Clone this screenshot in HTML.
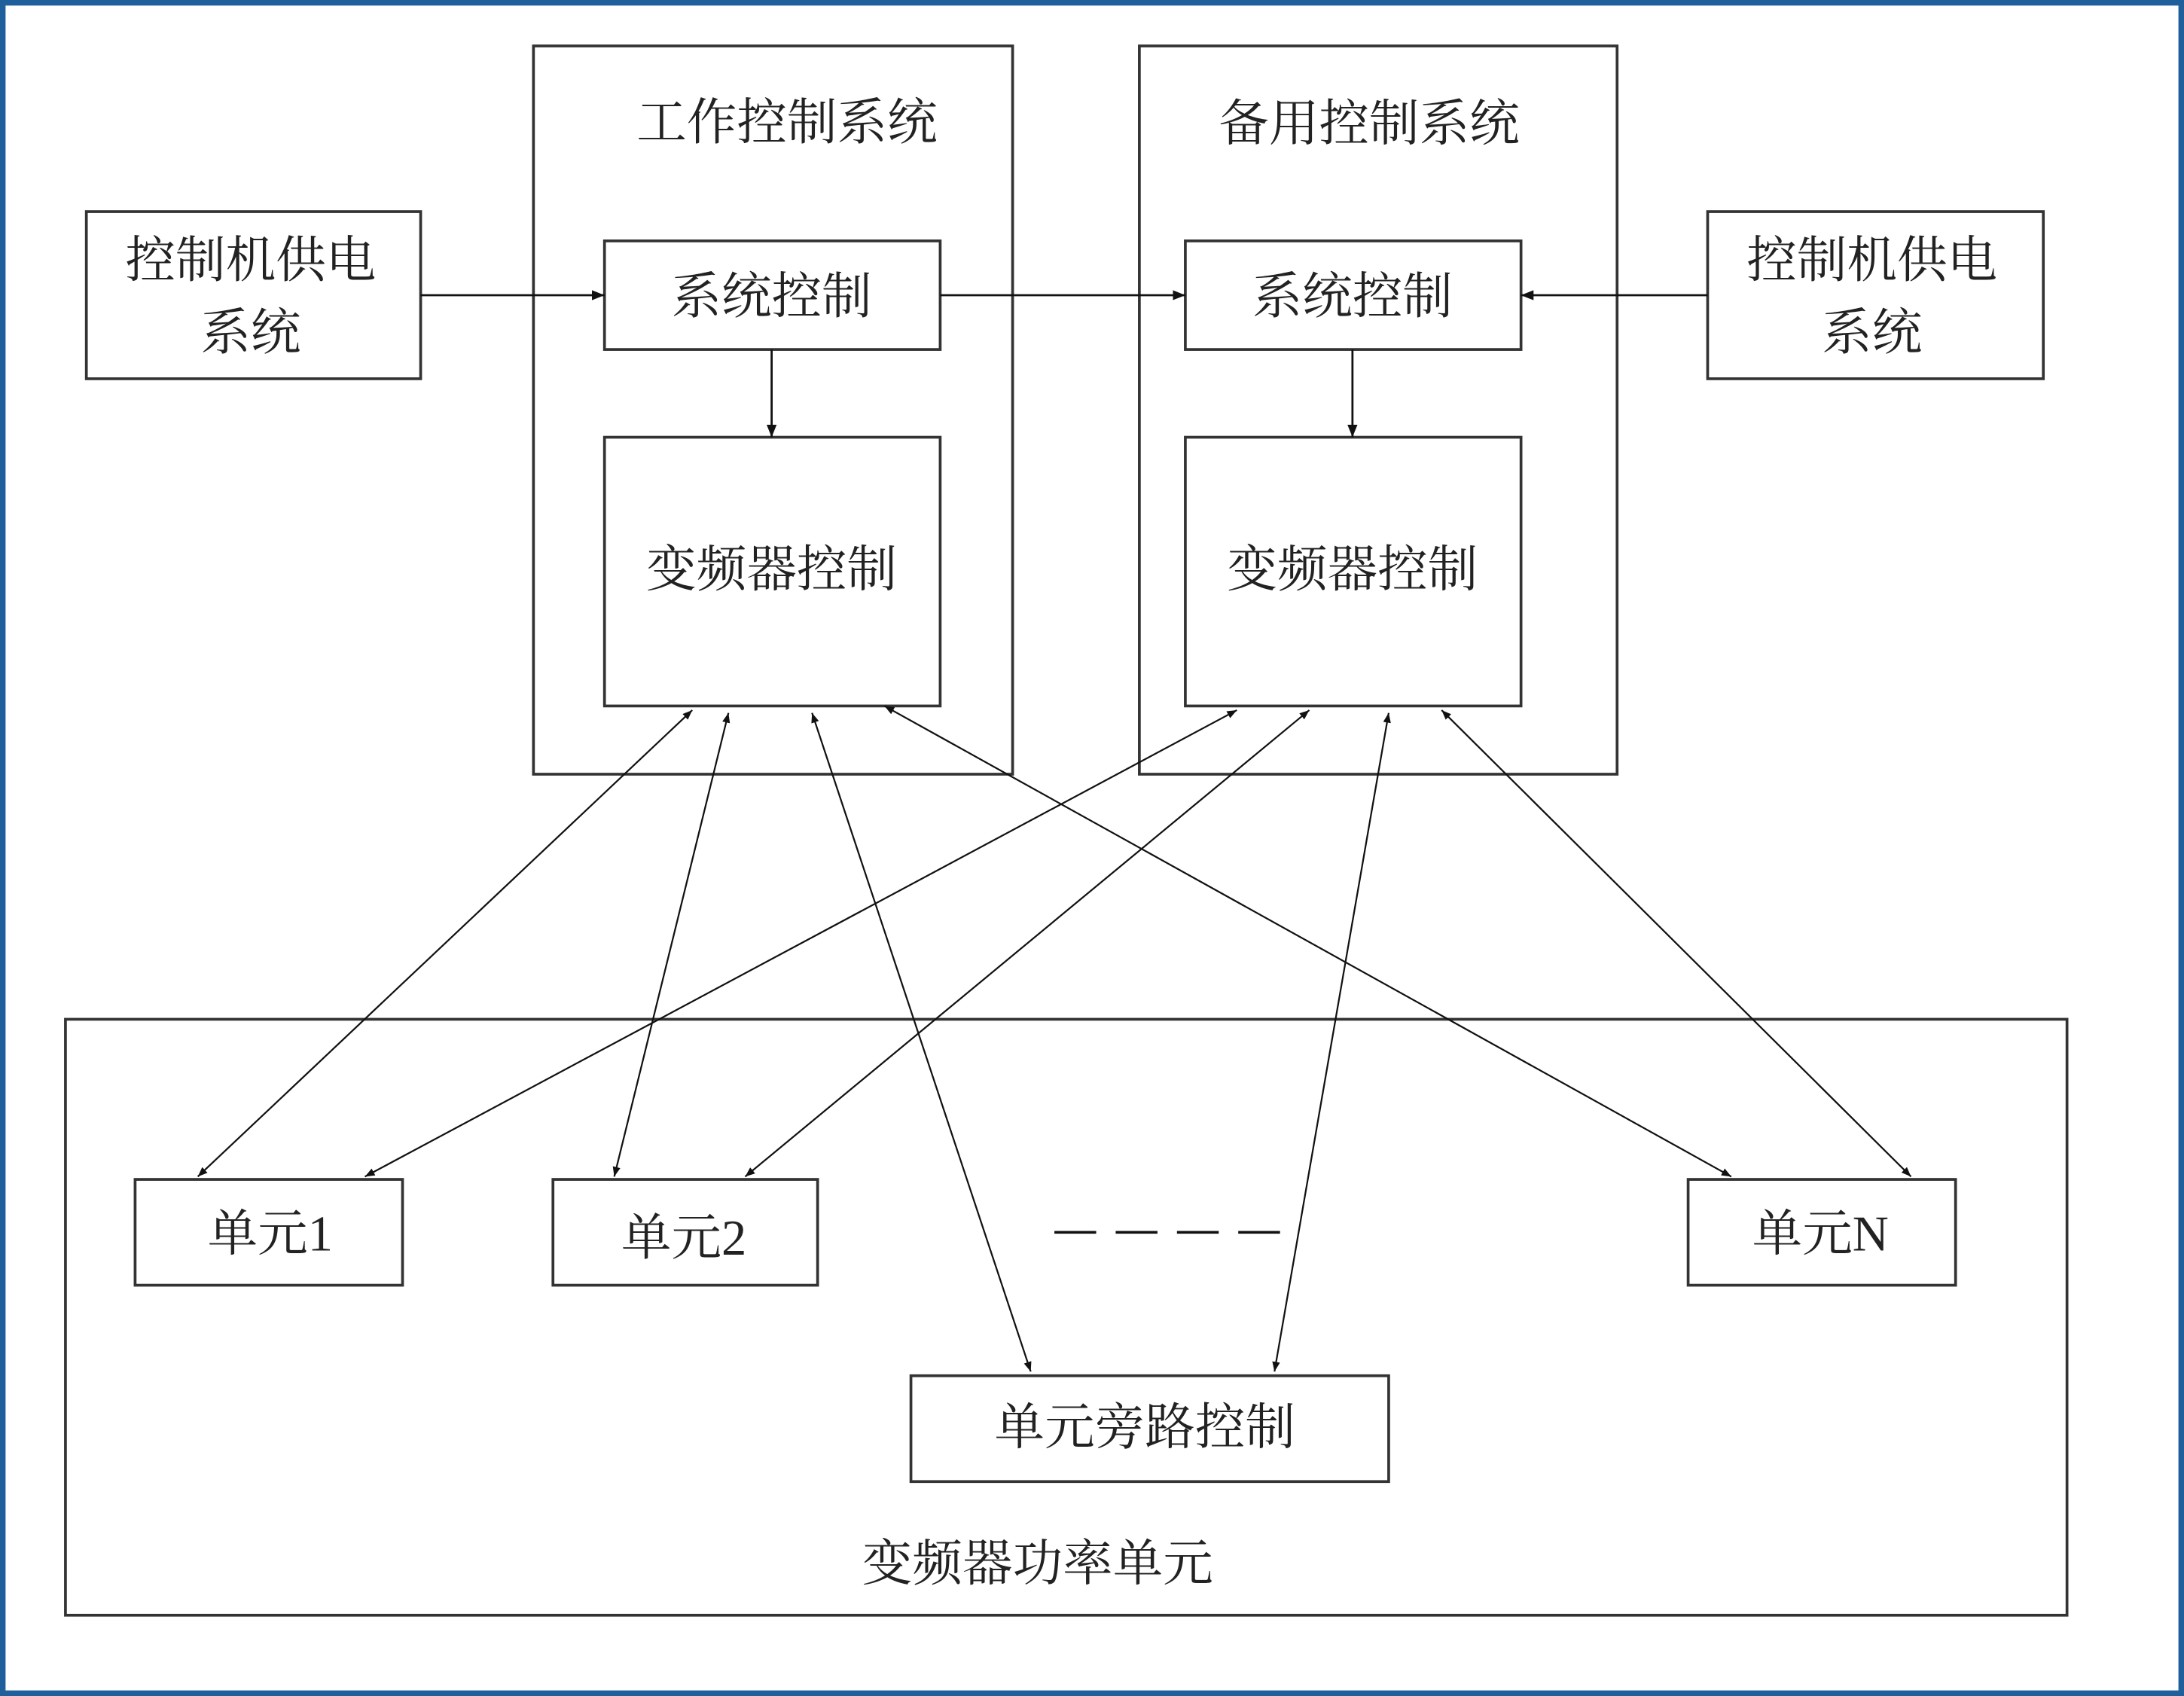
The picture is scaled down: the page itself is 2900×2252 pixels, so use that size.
<!DOCTYPE html>
<html><head><meta charset="utf-8"><style>
html,body{margin:0;padding:0;background:#fff}
svg{display:block}
text{font-family:"Liberation Serif","Noto Serif CJK SC","Noto Sans CJK SC",serif;fill:#222}
</style></head><body>
<svg width="2900" height="2252" viewBox="0 0 1568 1218" preserveAspectRatio="none" xmlns="http://www.w3.org/2000/svg">
<defs>
<marker id="a" viewBox="0 0 10 10" refX="10" refY="5" markerWidth="7" markerHeight="7" orient="auto-start-reverse" markerUnits="userSpaceOnUse"><path d="M0,1 L10,5 L0,9 z" fill="#111"/></marker>
<marker id="b" viewBox="0 0 10 10" refX="10" refY="5" markerWidth="9" markerHeight="9" orient="auto-start-reverse" markerUnits="userSpaceOnUse"><path d="M0,1 L10,5 L0,9 z" fill="#111"/></marker>
</defs>
<rect x="0" y="0" width="1568" height="1218" fill="#fff"/>
<rect x="2" y="2" width="1564" height="1214" fill="none" stroke="#1f5f9c" stroke-width="4"/>
<g fill="none" stroke="#333" stroke-width="2">
<rect x="383" y="33" width="344" height="523"/>
<rect x="818" y="33" width="343" height="523"/>
<rect x="62" y="152" width="240" height="120"/>
<rect x="1226" y="152" width="241" height="120"/>
<rect x="434" y="173" width="241" height="78"/>
<rect x="851" y="173" width="241" height="78"/>
<rect x="434" y="314" width="241" height="193"/>
<rect x="851" y="314" width="241" height="193"/>
<rect x="47" y="732" width="1437" height="428"/>
<rect x="97" y="847" width="192" height="76"/>
<rect x="397" y="847" width="190" height="76"/>
<rect x="1212" y="847" width="192" height="76"/>
<rect x="654" y="988" width="343" height="76"/>
</g>
<g stroke="#111" stroke-width="1.5" fill="none">
<line x1="302" y1="212" x2="434" y2="212" marker-end="url(#b)"/>
<line x1="675" y1="212" x2="851" y2="212" marker-end="url(#b)"/>
<line x1="1226" y1="212" x2="1092" y2="212" marker-end="url(#b)"/>
<line x1="554" y1="251" x2="554" y2="314" marker-end="url(#b)"/>
<line x1="971" y1="251" x2="971" y2="314" marker-end="url(#b)"/>
<g stroke-width="1.2">
<line x1="497" y1="510" x2="142" y2="845" marker-start="url(#a)" marker-end="url(#a)"/>
<line x1="523" y1="512" x2="441" y2="845" marker-start="url(#a)" marker-end="url(#a)"/>
<line x1="583" y1="512" x2="740" y2="985" marker-start="url(#a)" marker-end="url(#a)"/>
<line x1="635" y1="507" x2="1243" y2="845" marker-start="url(#a)" marker-end="url(#a)"/>
<line x1="888" y1="510" x2="262" y2="845" marker-start="url(#a)" marker-end="url(#a)"/>
<line x1="940" y1="510" x2="535" y2="845" marker-start="url(#a)" marker-end="url(#a)"/>
<line x1="997" y1="512" x2="915" y2="985" marker-start="url(#a)" marker-end="url(#a)"/>
<line x1="1035" y1="510" x2="1372" y2="845" marker-start="url(#a)" marker-end="url(#a)"/>
</g>
<line x1="757" y1="885" x2="922" y2="885" stroke-width="2" stroke-dasharray="30,14"/>
</g>
<g font-size="36" text-anchor="middle">
<text x="565" y="100">工作控制系统</text>
<text x="983" y="101">备用控制系统</text>
<text x="180" y="199">控制机供电</text>
<text x="180" y="251">系统</text>
<text x="1344" y="199">控制机供电</text>
<text x="1344" y="251">系统</text>
<text x="554" y="225">系统控制</text>
<text x="971" y="225">系统控制</text>
<text x="554" y="421">变频器控制</text>
<text x="971" y="421">变频器控制</text>
<text x="194" y="898">单元1</text>
<text x="491" y="901">单元2</text>
<text x="1307" y="898">单元N</text>
<text x="822" y="1037">单元旁路控制</text>
<text x="745" y="1135">变频器功率单元</text>
</g>
</svg>
</body></html>
